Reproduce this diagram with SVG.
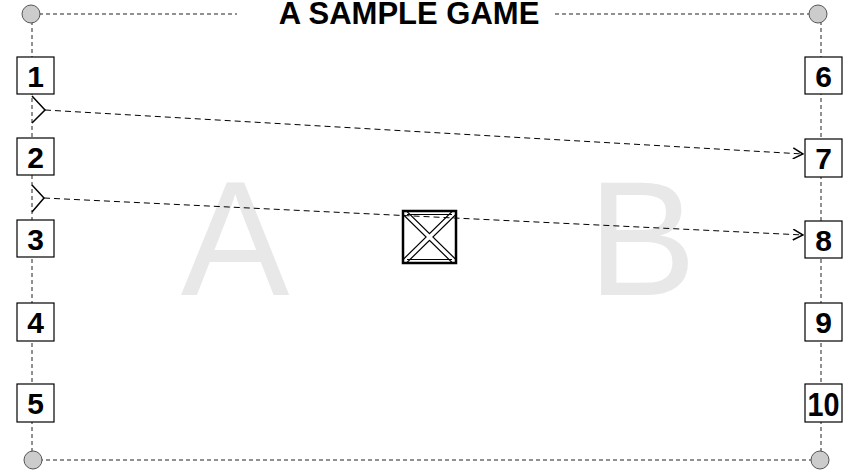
<svg xmlns="http://www.w3.org/2000/svg" width="848" height="470" viewBox="0 0 848 470">
<style>
.border{stroke:#222;stroke-width:1;stroke-dasharray:4 3;fill:none}
.corner{fill:#ccc;stroke:#555;stroke-width:1}
.box{fill:#fff;stroke:#000;stroke-width:1.2}
.num{font-family:"Liberation Sans",Arial,sans-serif;font-size:30px;font-weight:bold;fill:#000;text-anchor:middle}
.big{font-family:"Liberation Sans",Arial,sans-serif;font-size:163px;fill:#e8e8e8;text-anchor:middle}
.title{font-family:"Liberation Sans",Arial,sans-serif;font-size:31px;font-weight:bold;fill:#000;text-anchor:middle}
.conn{stroke:#000;stroke-width:1;stroke-dasharray:6 4;fill:none}
.chev{stroke:#000;stroke-width:1.5;fill:none}
</style>
<defs>
<marker id="arr" viewBox="0 0 12 12" refX="11" refY="6" markerWidth="12" markerHeight="12" markerUnits="userSpaceOnUse" orient="auto">
<path d="M1,0.5 L11,6 L1,11.5" fill="none" stroke="#000" stroke-width="1.5"/>
</marker>
<clipPath id="cb"><rect x="403" y="211" width="53" height="52"/></clipPath>
</defs>
<rect width="848" height="470" fill="#fff"/>
<g id="background-letters">
<text class="big" x="235" y="295">A</text>
<text class="big" x="642" y="295">B</text>
</g>
<g id="frame">
<line class="border" x1="32" y1="14" x2="237" y2="14"/>
<line class="border" x1="555" y1="14" x2="820" y2="14"/>
<line class="border" x1="32" y1="460" x2="820" y2="460"/>
<line class="border" x1="32" y1="14" x2="32" y2="460"/>
<line class="border" x1="821" y1="14" x2="821" y2="460"/>
<circle class="corner" cx="31" cy="14" r="9"/>
<circle class="corner" cx="818" cy="14" r="9"/>
<circle class="corner" cx="33" cy="460" r="9"/>
<circle class="corner" cx="820" cy="460" r="9"/>
</g>
<text id="title" class="title" x="409" y="24">A SAMPLE GAME</text>
<g id="n1"><rect class="box" x="17" y="57" width="37" height="37"/><text class="num" x="35.5" y="87">1</text></g>
<g id="n2"><rect class="box" x="17" y="138" width="37" height="37"/><text class="num" x="35.5" y="168">2</text></g>
<g id="n3"><rect class="box" x="17" y="220" width="37" height="37"/><text class="num" x="35.5" y="250">3</text></g>
<g id="n4"><rect class="box" x="17" y="303" width="37" height="38"/><text class="num" x="35.5" y="333">4</text></g>
<g id="n5"><rect class="box" x="17" y="384" width="37" height="38"/><text class="num" x="35.5" y="414">5</text></g>
<g id="n6"><rect class="box" x="805" y="57" width="37" height="37"/><text class="num" x="823.5" y="87">6</text></g>
<g id="n7"><rect class="box" x="805" y="139" width="37" height="38"/><text class="num" x="823.5" y="169">7</text></g>
<g id="n8"><rect class="box" x="805" y="221" width="37" height="37"/><text class="num" x="823.5" y="251">8</text></g>
<g id="n9"><rect class="box" x="805" y="303" width="37" height="38"/><text class="num" x="823.5" y="333">9</text></g>
<g id="n10"><rect class="box" x="805" y="384" width="37" height="38"/><text class="num" x="823.5" y="416" style="font-size:34px" textLength="32" lengthAdjust="spacingAndGlyphs">10</text></g>
<g id="center-box">
<rect x="403" y="211" width="53" height="52" fill="#fff" stroke="#000" stroke-width="2"/>
<g clip-path="url(#cb)">
<path d="M403,211 L456,263 M456,211 L403,263" stroke="#000" stroke-width="6" fill="none"/>
<path d="M403,211 L456,263 M456,211 L403,263" stroke="#fff" stroke-width="3.6" fill="none"/>
</g>
<line x1="407" y1="214.5" x2="452" y2="214.5" stroke="#000" stroke-width="1"/>
<line x1="407" y1="259.5" x2="452" y2="259.5" stroke="#000" stroke-width="1"/>
<rect x="403" y="211" width="53" height="52" fill="none" stroke="#000" stroke-width="2.5"/>
</g>
<g id="connectors">
<path class="conn" d="M45,110 L803,154" marker-end="url(#arr)"/>
<path class="chev" d="M32,96 L45,110 L32,123"/>
<path class="conn" d="M44,198 L803,235" marker-end="url(#arr)"/>
<path class="chev" d="M32,185 L44,198 L32,212"/>
</g>
</svg>
